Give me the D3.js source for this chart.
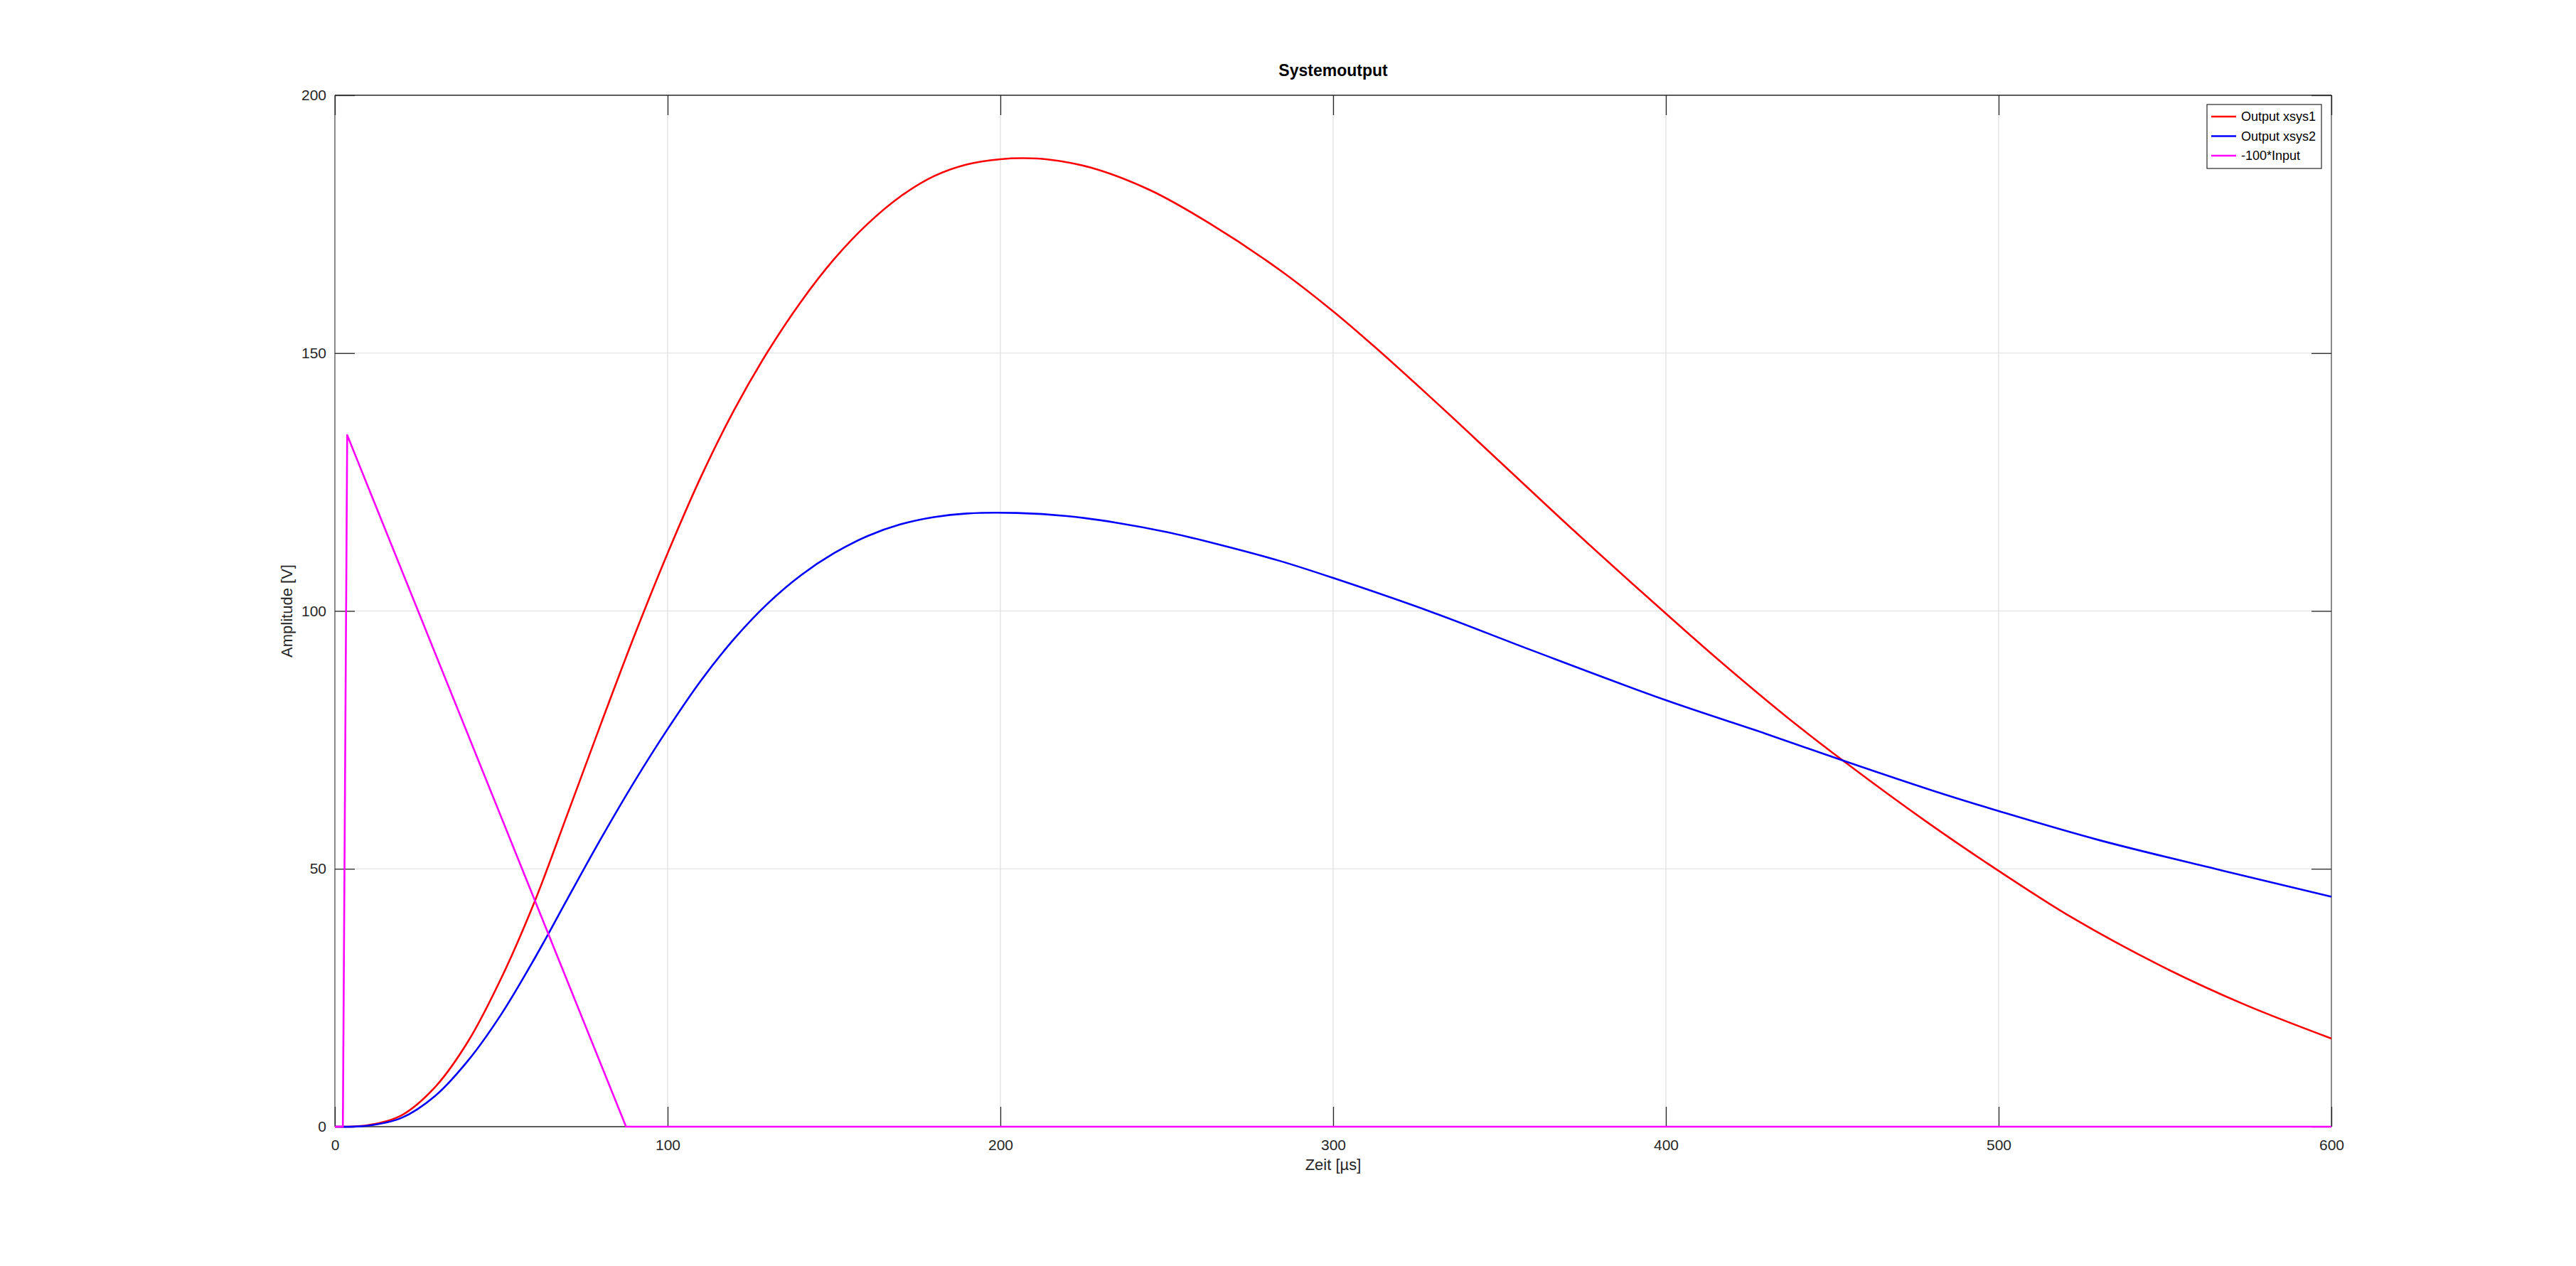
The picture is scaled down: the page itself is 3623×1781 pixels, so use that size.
<!DOCTYPE html>
<html>
<head>
<meta charset="utf-8">
<script src="https://cdn.jsdelivr.net/npm/d3@7"></script>
<style>
  html, body { margin: 0; padding: 0; background: #fff; }
  svg { display: block; }
  text { font-family: "Liberation Sans", Arial, Helvetica, sans-serif; }
</style>
</head>
<body>
<svg id="chart" width="3623" height="1781"></svg>
<script>
// ---- data ----
const titleText = "Systemoutput";
const xLabelText = "Zeit [µs]";
const yLabelText = "Amplitude [V]";
const seriesNames = ["Output xsys1", "Output xsys2", "-100*Input"];
const seriesColors = ["#ff0000", "#0000ff", "#ff00ff"];
const xTicks = [0, 100, 200, 300, 400, 500, 600];
const yTicks = [0, 50, 100, 150, 200];
const xDomain = [0, 600];
const yDomain = [0, 200];

const xsys1T = [0, 10, 20, 30, 40, 50, 60, 70, 80, 90, 100, 110, 120, 130, 140, 150, 160, 170, 180, 190, 200, 207, 215, 227, 245, 263, 284, 300, 312.5, 329.5, 351, 372.3, 394.1, 415.3, 436.6, 454, 478.8, 500, 521.9, 548.7, 573.5, 600];
const xsys1V = [0, 0.3, 2.2, 7.6, 16.5, 28.8, 43.6, 60.8, 78.2, 95.2, 111.2, 126.0, 139.0, 150.2, 159.9, 168.2, 175.0, 180.4, 184.3, 186.6, 187.6, 187.8, 187.5, 186.0, 181.6, 175.1, 166.1, 158.1, 151.2, 141.3, 128.4, 115.6, 102.9, 90.8, 79.3, 70.6, 58.9, 49.6, 40.6, 31.2, 23.8, 17.1];

const xsys2T = [0, 10, 20, 30, 40, 50, 60, 70, 80, 90, 100, 110, 120, 130, 140, 150, 160, 170, 180, 190, 205, 220, 235, 250, 265, 284, 300, 330, 360, 400, 430, 455, 480, 500, 530, 567, 600];
const xsys2V = [0, 0.2, 1.7, 5.9, 12.8, 21.8, 32.6, 44.3, 55.9, 66.9, 77.1, 86.5, 94.6, 101.4, 106.9, 111.2, 114.5, 116.8, 118.2, 118.9, 119.0, 118.4, 117.1, 115.3, 113.0, 109.7, 106.4, 99.7, 92.3, 82.7, 76.2, 70.6, 65.2, 61.2, 55.6, 49.7, 44.6];

const inputT = [0, 2.4, 3.7, 87.5, 600];
const inputV = [0, 0, 134.1, 0, 0];

// ---- layout ----
const W = 3623, H = 1781;
const plot = { left: 471, right: 3279, top: 134, bottom: 1585 };
const svg = d3.select("#chart");

const x = d3.scaleLinear().domain(xDomain).range([plot.left, plot.right]);
const y = d3.scaleLinear().domain(yDomain).range([plot.bottom, plot.top]);

svg.append("rect").attr("x", 0).attr("y", 0).attr("width", W).attr("height", H).attr("fill", "#fff");

// grid
const grid = svg.append("g").attr("stroke", "#dedede").attr("stroke-width", 1.2);
grid.selectAll("line.gx").data(xTicks.filter(d => d > xDomain[0] && d < xDomain[1])).join("line")
  .attr("x1", d => x(d)).attr("x2", d => x(d)).attr("y1", plot.top).attr("y2", plot.bottom);
grid.selectAll("line.gy").data(yTicks.filter(d => d > yDomain[0] && d < yDomain[1])).join("line")
  .attr("y1", d => y(d)).attr("y2", d => y(d)).attr("x1", plot.left).attr("x2", plot.right);

// frame
const frame = svg.append("g");
frame.append("line").attr("x1", plot.left).attr("x2", plot.right).attr("y1", plot.top).attr("y2", plot.top)
  .attr("stroke", "#262626").attr("stroke-width", 1.5);
frame.append("line").attr("x1", plot.left).attr("x2", plot.right).attr("y1", plot.bottom).attr("y2", plot.bottom)
  .attr("stroke", "#262626").attr("stroke-width", 1.5);
frame.append("line").attr("x1", plot.left).attr("x2", plot.left).attr("y1", plot.top).attr("y2", plot.bottom)
  .attr("stroke", "#8c8c8c").attr("stroke-width", 2);
frame.append("line").attr("x1", plot.right).attr("x2", plot.right).attr("y1", plot.top).attr("y2", plot.bottom)
  .attr("stroke", "#8c8c8c").attr("stroke-width", 2);

const tickLen = 28;
function styleAxis(g) {
  g.select(".domain").remove();
  g.selectAll(".tick line").attr("stroke", "#262626").attr("stroke-width", 1.3);
  g.selectAll(".tick text").attr("fill", "#262626").style("font-size", "21px")
    .style("font-family", '"Liberation Sans", Arial, Helvetica, sans-serif');
}

svg.append("g").attr("transform", `translate(0,${plot.bottom})`)
  .call(d3.axisBottom(x).tickValues(xTicks).tickFormat(d3.format("d")).tickSizeInner(-tickLen).tickSizeOuter(0).tickPadding(18))
  .call(styleAxis);
svg.append("g").attr("transform", `translate(0,${plot.top})`)
  .call(d3.axisTop(x).tickValues(xTicks).tickFormat("").tickSizeInner(-tickLen).tickSizeOuter(0))
  .call(styleAxis);
svg.append("g").attr("transform", `translate(${plot.left},0)`)
  .call(d3.axisLeft(y).tickValues(yTicks).tickFormat(d3.format("d")).tickSizeInner(-tickLen).tickSizeOuter(0).tickPadding(12))
  .call(styleAxis);
svg.append("g").attr("transform", `translate(${plot.right},0)`)
  .call(d3.axisRight(y).tickValues(yTicks).tickFormat("").tickSizeInner(-tickLen).tickSizeOuter(0))
  .call(styleAxis);

// data
const series = [
  { name: seriesNames[0], color: seriesColors[0], t: xsys1T, v: xsys1V, curve: d3.curveCatmullRom.alpha(0.5) },
  { name: seriesNames[1], color: seriesColors[1], t: xsys2T, v: xsys2V, curve: d3.curveCatmullRom.alpha(0.5) },
  { name: seriesNames[2], color: seriesColors[2], t: inputT, v: inputV, curve: d3.curveLinear }
];

svg.append("clipPath").attr("id", "plotclip").append("rect")
  .attr("x", plot.left - 2).attr("y", plot.top - 2)
  .attr("width", plot.right - plot.left + 4).attr("height", plot.bottom - plot.top + 4);

const dataG = svg.append("g").attr("clip-path", "url(#plotclip)");
series.forEach(s => {
  const pts = s.t.map((t, i) => [t, s.v[i]]);
  const line = d3.line().x(d => x(d[0])).y(d => y(d[1])).curve(s.curve);
  dataG.append("path").datum(pts).attr("d", line)
    .attr("fill", "none").attr("stroke", s.color).attr("stroke-width", 2.6)
    .attr("stroke-linejoin", "round");
});

// title and labels
svg.append("text").attr("x", x(300)).attr("y", 107).attr("text-anchor", "middle")
  .style("font-size", "23px").style("font-weight", "bold").attr("fill", "#000").text(titleText);
svg.append("text").attr("x", x(300)).attr("y", 1646).attr("text-anchor", "middle")
  .style("font-size", "22px").attr("fill", "#262626").text(xLabelText);
svg.append("text").attr("transform", `translate(411,${(plot.top + plot.bottom) / 2}) rotate(-90)`)
  .attr("text-anchor", "middle").style("font-size", "22px").attr("fill", "#262626").text(yLabelText);

// legend
const lg = svg.append("g");
lg.append("rect").attr("x", 3104).attr("y", 147).attr("width", 161).attr("height", 90)
  .attr("fill", "#fff").attr("stroke", "#262626").attr("stroke-width", 1.2);
series.forEach((s, i) => {
  const cy = 164 + i * 27.5;
  lg.append("line").attr("x1", 3110).attr("x2", 3145).attr("y1", cy).attr("y2", cy)
    .attr("stroke", s.color).attr("stroke-width", 2.6);
  lg.append("text").attr("x", 3152).attr("y", cy).attr("dy", "0.35em")
    .style("font-size", "18px").attr("fill", "#000").text(s.name);
});
</script>
</body>
</html>
